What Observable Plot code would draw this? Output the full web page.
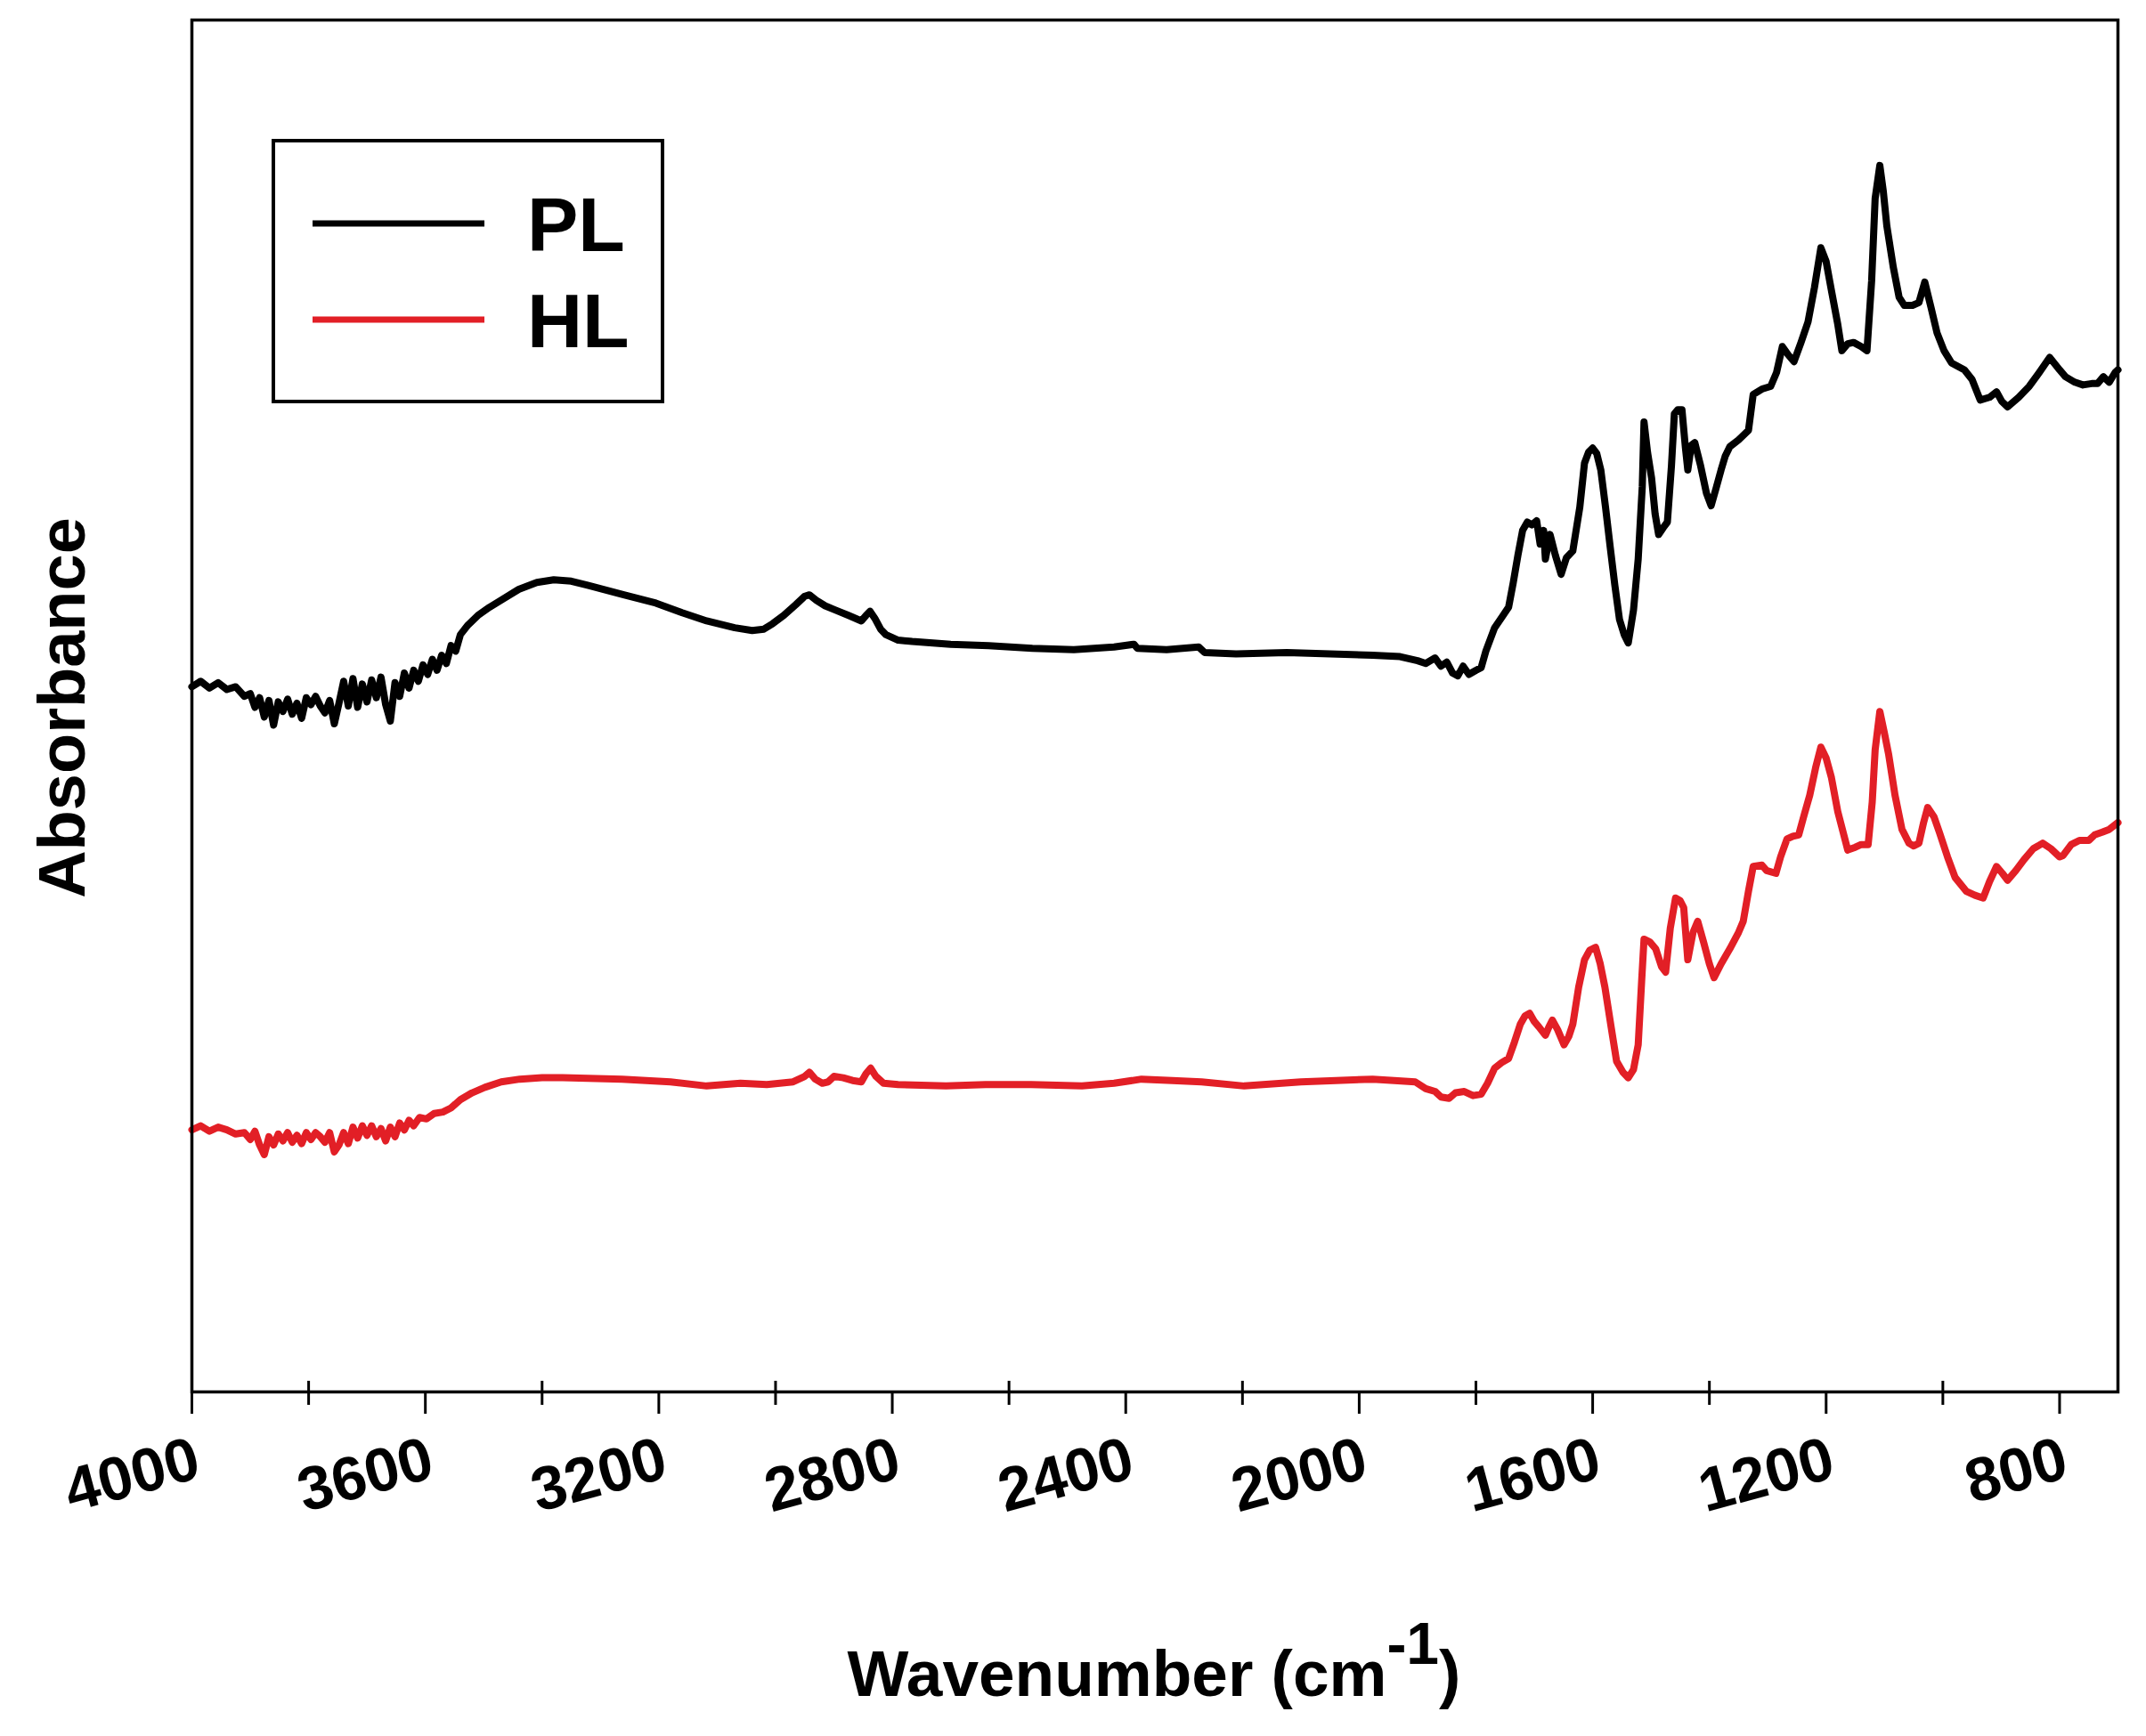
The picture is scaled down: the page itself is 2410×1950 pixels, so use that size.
<!DOCTYPE html>
<html><head><meta charset="utf-8">
<script src="https://cdn.jsdelivr.net/npm/d3@7"></script>
<script src="https://cdn.jsdelivr.net/npm/@observablehq/plot@0.6"></script>
<style>body{margin:0;background:#fff}</style>
</head><body><div id="chart"></div>
<script>
// ---- data ----
const plWavenumber = [4000,3985,3970,3955,3940,3925,3910,3900,3892,3884,3876,3868,3860,3852,3844,3836,3828,3820,3812,3804,3796,3788,3780,3772,3764,3756,3748,3740,3732,3724,3716,3708,3700,3692,3684,3676,3668,3660,3652,3644,3636,3628,3620,3612,3604,3596,3588,3580,3572,3564,3556,3548,3540,3527,3510,3490,3467,3440,3409,3380,3350,3322,3260,3205,3160,3118,3070,3040,3020,3005,2986,2965,2950,2942,2930,2915,2898,2875,2853,2845,2838,2830,2820,2811,2790,2766,2700,2635,2560,2489,2420,2386,2380,2330,2275,2265,2211,2124,2050,1977,1930,1900,1886,1870,1860,1850,1840,1831,1822,1812,1800,1791,1783,1768,1755,1744,1736,1728,1720,1712,1704,1696,1690,1684,1681,1673,1664,1654,1645,1634,1622,1614,1607,1600,1593,1586,1578,1570,1562,1554,1546,1539,1530,1522,1515,1512,1506,1499,1493,1487,1479,1472,1465,1460,1454,1447,1441,1437,1431,1425,1415,1405,1397,1389,1380,1373,1365,1350,1333,1325,1310,1295,1285,1275,1265,1255,1243,1231,1220,1209,1200,1191,1180,1173,1163,1153,1140,1130,1122,1116,1108,1102,1096,1085,1075,1066,1052,1041,1031,1020,1010,998,985,963,950,936,920,908,899,889,870,852,835,817,800,790,774,760,745,735,725,715,705,700];
const plAbsorbance = [51.4,51.8,51.3,51.7,51.2,51.4,50.7,50.9,49.9,50.6,49.2,50.4,48.6,50.3,49.6,50.5,49.4,50.2,49.1,50.6,50.1,50.7,50.0,49.5,50.4,48.7,50.2,51.8,50.0,52.0,49.9,51.6,50.3,51.9,50.6,52.1,50.1,48.9,51.7,50.7,52.4,51.3,52.6,51.8,53.0,52.3,53.4,52.6,53.7,53.1,54.4,54.0,55.2,55.9,56.6,57.2,57.8,58.5,59.0,59.2,59.1,58.8,58.1,57.5,56.8,56.2,55.7,55.5,55.6,56.0,56.6,57.4,58.0,58.1,57.7,57.3,57.0,56.6,56.2,56.6,56.9,56.4,55.6,55.2,54.8,54.7,54.5,54.4,54.2,54.1,54.3,54.5,54.2,54.1,54.3,53.9,53.8,53.9,53.8,53.7,53.6,53.3,53.1,53.5,52.9,53.2,52.4,52.2,52.9,52.3,52.6,52.8,54.0,55.7,56.5,57.2,59.0,61.0,62.8,63.4,63.2,63.5,61.8,62.8,60.7,62.5,61.0,59.6,60.8,61.3,64.5,67.7,68.5,68.8,68.4,67.2,64.5,61.6,58.8,56.3,55.2,54.6,57.0,60.7,66.0,70.7,68.5,66.6,64.0,62.5,63.0,63.4,67.5,71.3,71.6,71.6,68.8,67.2,69.0,69.2,67.5,65.5,64.6,65.8,67.2,68.2,68.9,69.4,70.1,72.7,73.1,73.3,74.3,76.2,75.6,75.1,76.5,78.0,80.5,83.4,82.4,80.3,77.8,75.9,76.4,76.5,76.2,75.9,81.0,87.0,89.4,87.5,85.0,82.0,79.8,79.2,79.2,79.4,80.9,79.0,77.2,75.9,75.0,74.5,73.8,72.3,72.5,72.9,72.2,71.8,72.5,73.3,74.3,75.4,74.5,74.0,73.6,73.4,73.5,73.5,74.0,73.6,74.3,74.5];

const hlWavenumber = [4000,3985,3970,3955,3940,3925,3910,3900,3892,3884,3876,3868,3860,3852,3844,3836,3828,3820,3812,3804,3796,3788,3780,3772,3764,3756,3748,3740,3732,3724,3716,3708,3700,3692,3684,3676,3668,3660,3652,3644,3636,3628,3620,3610,3598,3585,3570,3556,3540,3520,3498,3470,3438,3400,3365,3263,3180,3118,3060,3015,2970,2950,2942,2932,2920,2910,2900,2884,2868,2853,2845,2837,2828,2815,2790,2708,2640,2562,2475,2420,2373,2320,2270,2197,2100,2040,1977,1940,1904,1886,1870,1860,1846,1835,1820,1805,1791,1780,1768,1756,1744,1734,1724,1716,1708,1700,1692,1681,1675,1669,1660,1649,1641,1634,1624,1614,1605,1595,1587,1579,1568,1559,1548,1539,1530,1522,1516,1512,1502,1492,1482,1475,1467,1458,1450,1444,1437,1428,1420,1410,1400,1392,1380,1365,1350,1342,1333,1325,1310,1302,1286,1278,1267,1257,1247,1238,1228,1218,1209,1200,1191,1180,1163,1150,1140,1128,1121,1116,1108,1100,1093,1082,1070,1058,1050,1041,1033,1026,1015,1006,992,979,960,945,931,920,908,898,889,875,861,845,829,815,800,794,780,766,750,740,727,715,700];
const hlAbsorbance = [19.1,19.4,19.0,19.3,19.1,18.8,18.9,18.4,19.0,18.0,17.3,18.6,18.0,18.8,18.3,18.9,18.2,18.7,18.1,18.9,18.4,18.9,18.6,18.2,18.9,17.5,18.0,18.9,18.1,19.3,18.5,19.4,18.7,19.4,18.6,19.2,18.3,19.3,18.6,19.6,19.1,19.8,19.4,20.0,19.9,20.3,20.4,20.7,21.3,21.8,22.2,22.6,22.8,22.9,22.9,22.8,22.6,22.3,22.5,22.4,22.6,23.0,23.3,22.8,22.5,22.6,23.0,22.9,22.7,22.6,23.2,23.6,23.0,22.5,22.4,22.3,22.4,22.4,22.3,22.5,22.8,22.7,22.6,22.3,22.6,22.7,22.8,22.7,22.6,22.1,21.9,21.5,21.4,21.8,21.9,21.6,21.7,22.5,23.6,24.0,24.3,25.5,26.8,27.4,27.6,27.0,26.6,26.0,26.6,27.1,26.4,25.3,25.9,26.8,29.5,31.5,32.2,32.4,31.2,29.5,26.5,24.1,23.3,22.9,23.5,25.3,30.0,33.0,32.8,32.3,31.0,30.6,33.8,36.0,35.8,35.3,31.5,33.5,34.3,32.8,31.2,30.2,31.2,32.3,33.5,34.3,36.5,38.3,38.4,38.0,37.8,39.0,40.3,40.5,40.6,42.0,43.5,45.5,47.0,46.2,44.8,42.3,39.5,39.7,39.9,39.9,43.0,46.8,49.6,48.0,46.5,43.5,41.0,40.0,39.8,40.0,41.5,42.6,41.9,40.8,39.0,37.5,36.5,36.2,36.0,37.2,38.3,37.8,37.3,38.0,38.8,39.6,40.0,39.6,39.0,39.1,39.9,40.2,40.2,40.6,40.8,41.0,41.5];

const majorTicks = [4000,3600,3200,2800,2400,2000,1600,1200,800];
const minorTicks = [3800,3400,3000,2600,2200,1800,1400,1000];
const seriesNames = ["PL","HL"];
const seriesColors = ["#000000","#e21f26"];
const xTitle = "Wavenumber (cm";
const xTitleSup = "-1";
const yTitle = "Absorbance";

// ---- build tables ----
const pl = plWavenumber.map((w,i)=>({wn:w, a:plAbsorbance[i], s:seriesNames[0]}));
const hl = hlWavenumber.map((w,i)=>({wn:w, a:hlAbsorbance[i], s:seriesNames[1]}));

const W = 2410, H = 1950;
const font = "'Liberation Sans', Arial, Helvetica, sans-serif";

const chart = Plot.plot({
  width: W, height: H,
  marginLeft: 215, marginRight: 32, marginTop: 22, marginBottom: 387,
  style: {background: "#fff", fontFamily: font, overflow: "visible"},
  x: {domain: [4000, 700], axis: null},
  y: {domain: [0, 100], axis: null},
  marks: [
    Plot.line(pl, {x: "wn", y: "a", stroke: seriesColors[0], strokeWidth: 8, strokeLinejoin: "round", curve: "linear"}),
    Plot.line(hl, {x: "wn", y: "a", stroke: seriesColors[1], strokeWidth: 8, strokeLinejoin: "round", curve: "linear"}),
    Plot.frame({stroke: "#000", strokeWidth: 3.5}),
    Plot.axisX(majorTicks, {anchor: "bottom", tickSize: 25, strokeWidth: 3, tickFormat: () => "", label: null}),
    Plot.axisX(minorTicks, {anchor: "bottom", tickSize: 27, dy: -12, strokeWidth: 3, tickFormat: () => "", label: null}),
    Plot.text(majorTicks, {x: d => d, text: d => String(d), frameAnchor: "bottom", dy: 48,
      textAnchor: "end", lineAnchor: "top", rotate: -15, fontSize: 69, fontWeight: "bold",
      fontFamily: font, fill: "#000"})
  ]
});

document.getElementById("chart").appendChild(chart);

// ---- titles & legend (text and decoration) ----
const svg = d3.select(chart);
const t = svg.append("text")
  .attr("x", 1296).attr("y", 1905)
  .attr("text-anchor", "middle")
  .attr("font-family", font).attr("font-weight", "bold").attr("font-size", 73).attr("fill", "#000");
t.append("tspan").text(xTitle);
t.append("tspan").attr("dy", -36).attr("font-size", 66).text(xTitleSup);
t.append("tspan").attr("dy", 36).text(")");

svg.append("text")
  .attr("transform", "translate(95,795) rotate(-90)")
  .attr("text-anchor", "middle")
  .attr("font-family", font).attr("font-weight", "bold").attr("font-size", 74).attr("fill", "#000")
  .text(yTitle);

const lg = svg.append("g");
lg.append("rect").attr("x", 307).attr("y", 158).attr("width", 437).attr("height", 293)
  .attr("fill", "#fff").attr("stroke", "#000").attr("stroke-width", 4);
const rowsY = [251, 359];
seriesNames.forEach((name, i) => {
  lg.append("line").attr("x1", 351).attr("x2", 544).attr("y1", rowsY[i]).attr("y2", rowsY[i])
    .attr("stroke", seriesColors[i]).attr("stroke-width", 7);
  lg.append("text").attr("x", 592).attr("y", rowsY[i] + 31)
    .attr("text-anchor", "start")
    .attr("font-family", font).attr("font-weight", "bold").attr("font-size", 86).attr("fill", "#000")
    .text(name);
});
</script>
</body></html>
